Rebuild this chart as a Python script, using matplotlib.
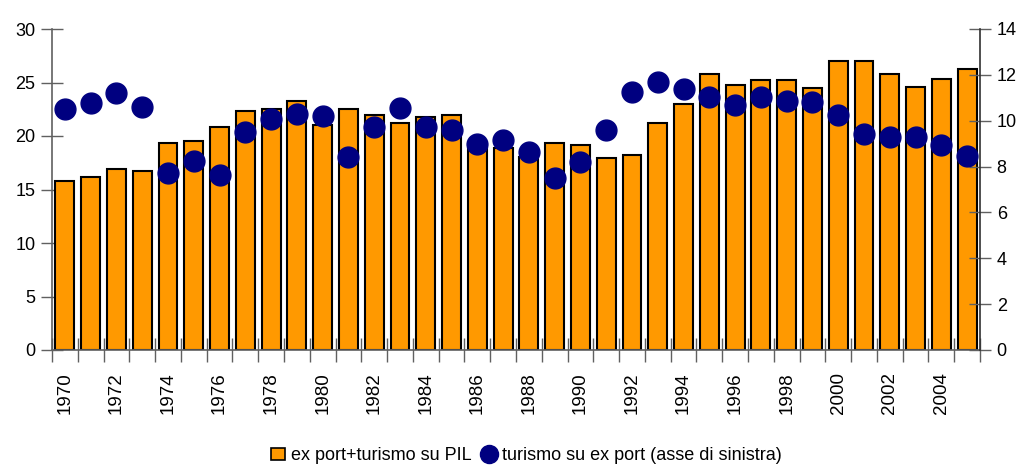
import matplotlib
matplotlib.use("Agg")
import matplotlib.pyplot as plt
import numpy as np
from matplotlib.lines import Line2D
from matplotlib.patches import Patch

plt.rcParams['font.family'] = ['Liberation Sans', 'DejaVu Sans']

years = list(range(1970, 2006))
export_turismo_pil = [15.8, 16.2, 16.95, 16.75, 19.35, 19.55, 20.85, 22.35, 22.55, 23.3,
                      21.05, 22.55, 22.0, 21.25, 21.8, 22.0, 18.9, 18.85, 18.0, 19.35,
                      19.2, 17.9, 18.25, 21.25, 22.95, 25.75, 24.8, 25.2, 25.2, 24.45,
                      27.05, 27.05, 25.75, 24.6, 25.35, 26.3]
turismo_export = [10.5, 10.77, 11.22, 10.6, 7.73, 8.26, 7.65, 9.49, 10.09, 10.28,
                  10.19, 8.43, 9.74, 10.54, 9.74, 9.59, 8.97, 9.16, 8.62, 7.49,
                  8.19, 9.58, 11.24, 11.67, 11.4, 11.05, 10.7, 11.05, 10.87, 10.8,
                  10.26, 9.41, 9.3, 9.3, 8.95, 8.45]
left_ticks = [0, 5, 10, 15, 20, 25, 30]
right_ticks = [0, 2, 4, 6, 8, 10, 12, 14]
label_bar = "ex port+turismo su PIL"
label_dot = "turismo su ex port (asse di sinistra)"

orange = "#FF9900"
navy = "#000080"
axcol = "#606060"

fig = plt.figure(figsize=(10.22, 4.68), dpi=100)
ax = fig.add_axes([52/1022, 1-350/468, (980-52)/1022, (350-29)/468])
x = np.arange(len(years))
ax.bar(x, export_turismo_pil, width=0.73, color=orange, edgecolor="black", linewidth=1.5, zorder=2)
ax.set_xlim(-0.5, len(years) - 0.5)
ax.set_ylim(0, 30)
ax.set_yticks(left_ticks)
ax.set_xticks(x[::2])
ax.set_xticklabels([str(y) for y in years[::2]], rotation=90, fontsize=13.5)
ax.set_xticks(np.arange(-0.5, len(years)), minor=True)
ax.tick_params(axis='x', which='major', length=0, pad=16)
ax.tick_params(axis='x', which='minor', length=17, direction='inout', color=axcol, width=1)
ax.tick_params(axis='y', length=16, direction='inout', color=axcol, width=1, labelsize=13, pad=4)
for s in ['top', 'right']:
    ax.spines[s].set_visible(False)
for s in ['left', 'bottom']:
    ax.spines[s].set_color(axcol)
    ax.spines[s].set_linewidth(1.2)

ax2 = ax.twinx()
ax2.plot(x, turismo_export, linestyle='none', marker='o', markersize=15, color=navy, zorder=3)
ax2.set_ylim(0, 14)
ax2.set_yticks(right_ticks)
ax2.tick_params(axis='y', length=16, direction='inout', color=axcol, width=1, labelsize=13, pad=4)
for s in ['top', 'left', 'bottom']:
    ax2.spines[s].set_visible(False)
ax2.spines['right'].set_color("#303030")
ax2.spines['right'].set_linewidth(1.2)

handles = [Patch(facecolor=orange, edgecolor='black', linewidth=1.2),
           Line2D([0], [0], linestyle='none', marker='o', markersize=13, color=navy)]
fig.legend(handles, [label_bar, label_dot], loc='center', bbox_to_anchor=(0.515, 0.026),
           ncol=2, frameon=False, handlelength=0.8, handletextpad=0.3,
           columnspacing=0.6, prop={'size': 13})

fig.savefig("out.png", dpi=100)
